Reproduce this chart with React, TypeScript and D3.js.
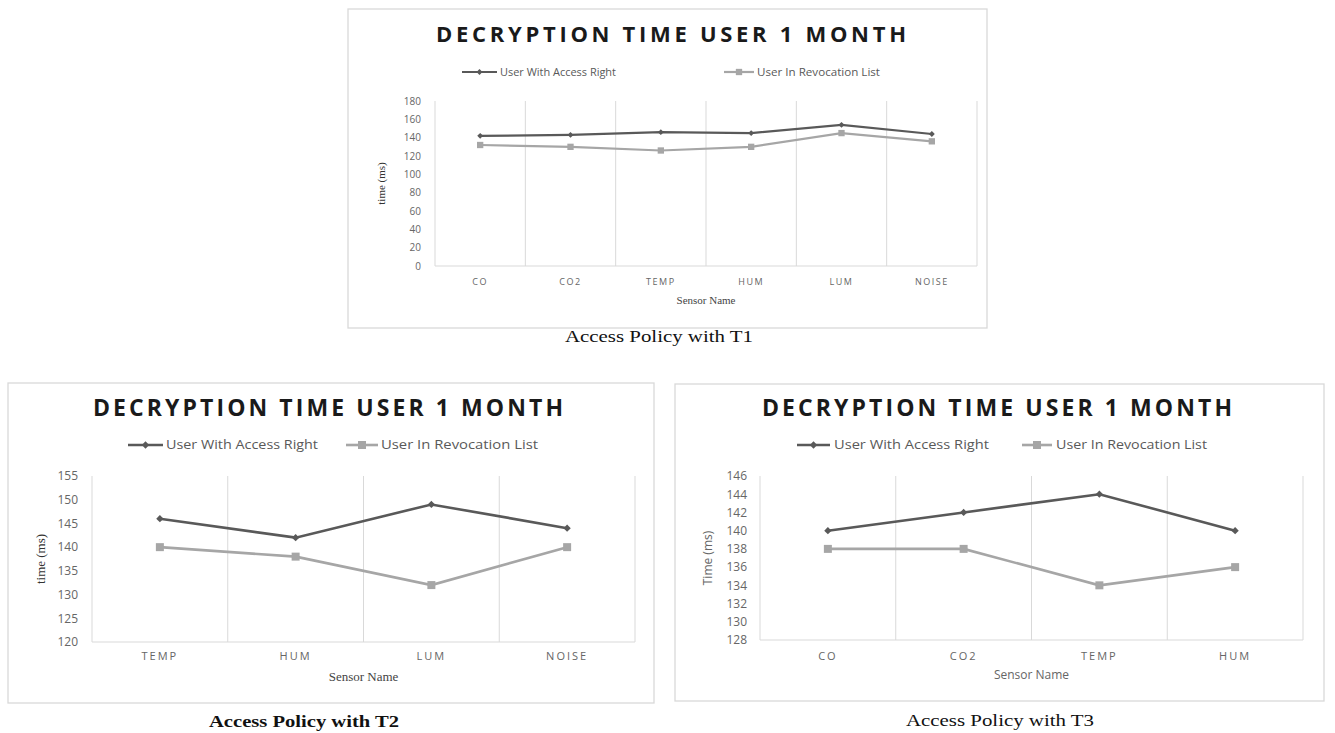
import React from "react";
import * as d3 from "d3";

// ---------- DATA ----------
const t1Categories = ["CO", "CO2", "TEMP", "HUM", "LUM", "NOISE"];
const t1AccessRight = [142, 143, 146, 145, 154, 144];
const t1Revocation = [132, 130, 126, 130, 145, 136];
const t1Ticks = [0, 20, 40, 60, 80, 100, 120, 140, 160, 180];

const t2Categories = ["TEMP", "HUM", "LUM", "NOISE"];
const t2AccessRight = [146, 142, 149, 144];
const t2Revocation = [140, 138, 132, 140];
const t2Ticks = [120, 125, 130, 135, 140, 145, 150, 155];

const t3Categories = ["CO", "CO2", "TEMP", "HUM"];
const t3AccessRight = [140, 142, 144, 140];
const t3Revocation = [138, 138, 134, 136];
const t3Ticks = [128, 130, 132, 134, 136, 138, 140, 142, 144, 146];

const seriesNames = ["User With Access Right", "User In Revocation List"];
const chartTitle = "DECRYPTION TIME USER 1 MONTH";

// ---------- STYLE ----------
const DARK = "#595959";
const LIGHT = "#a6a6a6";
const GRID = "#d9d9d9";
const SANS = "'Open Sans', 'DejaVu Sans', sans-serif";
const SERIF = "'Liberation Serif', 'Times New Roman', serif";

type Cfg = {
  box: [number, number, number, number];
  plot: { l: number; r: number; t: number; b: number };
  title: { cx: number; y: number; size: number; width: number };
  legend: { y: number; size: number; items: { x0: number; x1: number; tx: number; tw: number }[] };
  categories: string[];
  access: number[];
  revoc: number[];
  ticks: number[];
  tickX: number;
  tickSize: number;
  yLabel: { text: string; x: number; font: string; size: number; color: string };
  xTick: { y: number; size: number; ls: number };
  xTitle: { y: number; font: string; size: number; color: string };
  caption: { text: string; cx: number; y: number; width: number; size: number; bold: boolean };
  marker: { diamond: number; square: number; stroke: number };
};

const configs: Cfg[] = [
  {
    box: [348, 9, 987, 328],
    plot: { l: 435, r: 977, t: 101, b: 266 },
    title: { cx: 671, y: 42, size: 22, width: 470 },
    legend: {
      y: 72,
      size: 10,
      items: [
        { x0: 462, x1: 497, tx: 500, tw: 116 },
        { x0: 724, x1: 754, tx: 757, tw: 123 },
      ],
    },
    categories: t1Categories,
    access: t1AccessRight,
    revoc: t1Revocation,
    ticks: t1Ticks,
    tickX: 421,
    tickSize: 10,
    yLabel: { text: "time (ms)", x: 381, font: SERIF, size: 11, color: "#333" },
    xTick: { y: 285, size: 9, ls: 1.5 },
    xTitle: { y: 304, font: SERIF, size: 11, color: "#444" },
    caption: { text: "Access Policy with T1", cx: 659, y: 342, width: 188, size: 16, bold: false },
    marker: { diamond: 22, square: 40, stroke: 2.2 },
  },
  {
    box: [8, 383, 654, 703],
    plot: { l: 92, r: 635, t: 476, b: 642 },
    title: { cx: 328, y: 416, size: 23, width: 470 },
    legend: {
      y: 445,
      size: 12,
      items: [
        { x0: 128, x1: 163, tx: 166, tw: 152 },
        { x0: 346, x1: 378, tx: 381, tw: 157 },
      ],
    },
    categories: t2Categories,
    access: t2AccessRight,
    revoc: t2Revocation,
    ticks: t2Ticks,
    tickX: 78,
    tickSize: 12,
    yLabel: { text: "time (ms)", x: 40, font: SERIF, size: 13, color: "#333" },
    xTick: { y: 660, size: 11, ls: 2 },
    xTitle: { y: 681, font: SERIF, size: 13, color: "#444" },
    caption: { text: "Access Policy with T2", cx: 304, y: 727, width: 190, size: 16, bold: true },
    marker: { diamond: 34, square: 64, stroke: 2.6 },
  },
  {
    box: [675, 384, 1324, 701],
    plot: { l: 760, r: 1303, t: 476, b: 640 },
    title: { cx: 997, y: 416, size: 23, width: 470 },
    legend: {
      y: 445,
      size: 12,
      items: [
        { x0: 797, x1: 830, tx: 834, tw: 155 },
        { x0: 1022, x1: 1052, tx: 1056, tw: 151 },
      ],
    },
    categories: t3Categories,
    access: t3AccessRight,
    revoc: t3Revocation,
    ticks: t3Ticks,
    tickX: 747,
    tickSize: 12,
    yLabel: { text: "Time (ms)", x: 707, font: SANS, size: 12, color: "#666" },
    xTick: { y: 660, size: 11, ls: 2 },
    xTitle: { y: 679, font: SANS, size: 12, color: "#666" },
    caption: { text: "Access Policy with T3", cx: 1000, y: 726, width: 188, size: 16, bold: false },
    marker: { diamond: 34, square: 64, stroke: 2.6 },
  },
];

function Chart({ c }: { c: Cfg }) {
  const { plot } = c;
  const x = d3.scaleBand<string>().domain(c.categories).range([plot.l, plot.r]).padding(0);
  const y = d3
    .scaleLinear()
    .domain([c.ticks[0], c.ticks[c.ticks.length - 1]])
    .range([plot.b, plot.t]);
  const cx = (cat: string) => (x(cat) as number) + x.bandwidth() / 2;
  const line = d3
    .line<number>()
    .x((_, i) => cx(c.categories[i]))
    .y((v) => y(v));
  const diamond = d3.symbol().type(d3.symbolDiamond2).size(c.marker.diamond)() as string;
  const square = d3.symbol().type(d3.symbolSquare).size(c.marker.square)() as string;
  const bounds = c.categories.map((cat) => x(cat) as number).concat([plot.r]);
  const [bx0, by0, bx1, by1] = c.box;
  const series = [
    { vals: c.access, color: DARK, marker: diamond },
    { vals: c.revoc, color: LIGHT, marker: square },
  ];
  return (
    <g>
      <rect x={bx0} y={by0} width={bx1 - bx0} height={by1 - by0} fill="#fff" stroke={GRID} strokeWidth={1.3} />
      <text
        x={c.title.cx}
        y={c.title.y}
        textAnchor="middle"
        fontFamily={SANS}
        fontWeight={700}
        fontSize={c.title.size}
        fill="#1a1a1a"
        textLength={c.title.width}
        lengthAdjust="spacing"
      >
        {chartTitle}
      </text>
      {c.legend.items.map((it, i) => (
        <g key={i}>
          <line x1={it.x0} x2={it.x1} y1={c.legend.y} y2={c.legend.y} stroke={series[i].color} strokeWidth={c.marker.stroke} />
          <path d={series[i].marker} transform={`translate(${(it.x0 + it.x1) / 2},${c.legend.y})`} fill={series[i].color} />
          <text
            x={it.tx}
            y={c.legend.y + c.legend.size * 0.36}
            fontFamily={SANS}
            fontSize={c.legend.size}
            fill="#595959"
            textLength={it.tw}
            lengthAdjust="spacingAndGlyphs"
          >
            {seriesNames[i]}
          </text>
        </g>
      ))}
      {bounds.map((bx, i) => (
        <line key={"g" + i} x1={bx} x2={bx} y1={plot.t} y2={plot.b} stroke={GRID} strokeWidth={1} />
      ))}
      <line x1={plot.l} x2={plot.r} y1={plot.b} y2={plot.b} stroke={GRID} strokeWidth={1.2} />
      {c.ticks.map((t) => (
        <text
          key={"t" + t}
          x={c.tickX}
          y={y(t) + c.tickSize * 0.36}
          textAnchor="end"
          fontFamily={SANS}
          fontSize={c.tickSize}
          fill="#666"
        >
          {t}
        </text>
      ))}
      {c.categories.map((cat) => (
        <text
          key={"c" + cat}
          x={cx(cat)}
          y={c.xTick.y}
          textAnchor="middle"
          fontFamily={SANS}
          fontSize={c.xTick.size}
          letterSpacing={c.xTick.ls}
          fill="#666"
        >
          {cat}
        </text>
      ))}
      <text
        transform={`translate(${c.yLabel.x},${(plot.t + plot.b) / 2}) rotate(-90)`}
        textAnchor="middle"
        dominantBaseline="central"
        fontFamily={c.yLabel.font}
        fontSize={c.yLabel.size}
        fill={c.yLabel.color}
      >
        {c.yLabel.text}
      </text>
      <text
        x={(plot.l + plot.r) / 2}
        y={c.xTitle.y}
        textAnchor="middle"
        fontFamily={c.xTitle.font}
        fontSize={c.xTitle.size}
        fill={c.xTitle.color}
      >
        Sensor Name
      </text>
      {series.map((s, si) => (
        <g key={"s" + si}>
          <path d={line(s.vals) as string} fill="none" stroke={s.color} strokeWidth={c.marker.stroke} />
          {s.vals.map((v, i) => (
            <path key={i} d={s.marker} transform={`translate(${cx(c.categories[i])},${y(v)})`} fill={s.color} />
          ))}
        </g>
      ))}
      <text
        x={c.caption.cx}
        y={c.caption.y}
        textAnchor="middle"
        fontFamily={SERIF}
        fontSize={c.caption.size}
        fontWeight={c.caption.bold ? 700 : 400}
        fill="#111"
        textLength={c.caption.width}
        lengthAdjust="spacingAndGlyphs"
      >
        {c.caption.text}
      </text>
    </g>
  );
}

export default function App() {
  return (
    <svg
      width={1335}
      height={733}
      viewBox="0 0 1335 733"
      style={{ position: "absolute", left: 0, top: 0, background: "#fff" }}
    >
      <rect x={0} y={0} width={1335} height={733} fill="#fff" />
      {configs.map((c, i) => (
        <Chart key={i} c={c} />
      ))}
    </svg>
  );
}
